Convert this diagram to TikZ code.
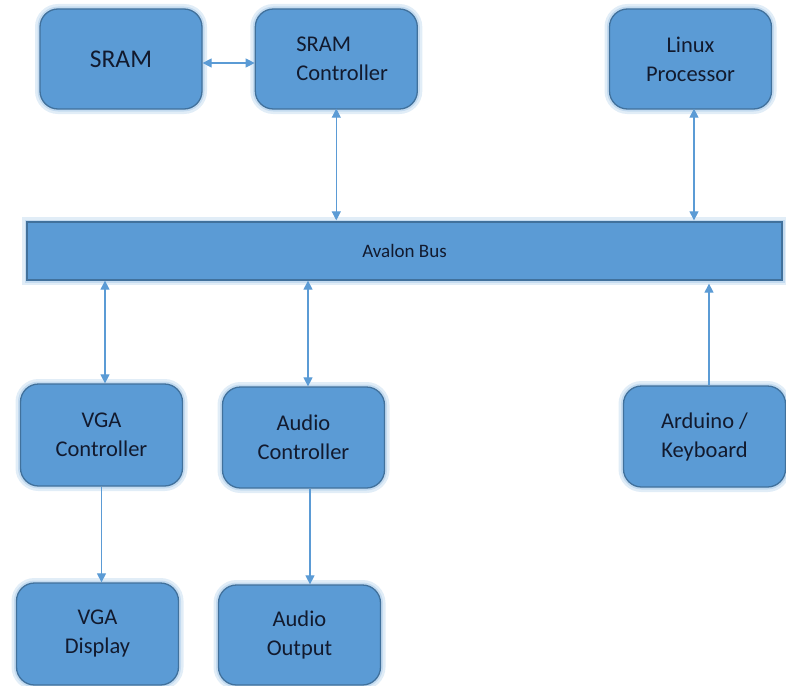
\documentclass[tikz,border=0pt]{standalone}
\usepackage{fontspec}
\setmainfont{Carlito}
\usetikzlibrary{arrows.meta,positioning}
\definecolor{blockfill}{HTML}{5B9BD5}
\definecolor{blockline}{HTML}{41719C}
\definecolor{blockglow}{HTML}{BDD7EE}
\definecolor{blocktext}{HTML}{121A2E}

\begin{document}
\begin{tikzpicture}[
    x=1pt, y=-1pt,
    block/.style={draw=blockline, fill=blockfill, line width=1.3pt, rounded corners=18pt,
      align=center, minimum width=162pt, minimum height=101pt, text=blocktext,
      font=\fontsize{22.5}{29}\selectfont,
      preaction={draw=blockglow, line width=10pt, opacity=.45},
      preaction={draw=blockglow, line width=5pt, opacity=.8}},
    busbar/.style={block, rounded corners=0pt, minimum width=755pt, minimum height=58pt,
      font=\fontsize{19}{22}\selectfont},
    arr/.style={draw=blockfill, line width=1.2pt, -{Triangle[length=9pt,width=9pt]}},
    biarr/.style={arr, {Triangle[length=9pt,width=9pt]}-{Triangle[length=9pt,width=9pt]}}
  ]
    \useasboundingbox (0,0) rectangle (786,685);

    % Top row
    \node[block, minimum height=100pt, font=\fontsize{25.5}{29}\selectfont] (sram) at (121,59) {SRAM};
    \node[block, minimum height=100pt, right=52pt of sram, align=left, text width=92pt, xshift=0pt] (sramctrl) {\hspace*{6pt}SRAM\\\hspace*{6pt}Controller\hspace*{-8pt}};
    \node[block, minimum height=100pt] (linux) at (690.5,59) {Linux\\Processor};

    % Bus
    \node[busbar] (bus) at (404.5,251) {Avalon Bus};

    % Lower rows
    \node[block, minimum height=102pt] (vgactrl) at (101.5,435) {VGA\\Controller};
    \node[block] (audioctrl) at (303.5,437.5) {Audio\\Controller};
    \node[block] (arduino) at (704.5,436.5) {Arduino /\\Keyboard};
    \node[block, minimum height=102pt] (vgadisp) at (97.5,634) {VGA\\Display};
    \node[block, minimum height=100pt] (audioout) at (299.5,635) {Audio\\Output};

    % Memory side
    \draw[biarr] ([yshift=-4pt]sram.east) -- ([yshift=-4pt]sram.east -| sramctrl.west);
    \draw[biarr] ([yshift=1pt]sramctrl.south) -- ([yshift=1pt]sramctrl.south |- bus.north);
    \draw[biarr] ([xshift=3.5pt,yshift=1pt]linux.south) -- ([xshift=3.5pt,yshift=1pt]linux.south |- bus.north);

    % Peripherals to bus
    \draw[biarr] ([xshift=3.5pt]vgactrl.north) -- ([xshift=3.5pt]vgactrl.north |- bus.south);
    \draw[biarr] ([xshift=4.5pt]audioctrl.north) -- ([xshift=4.5pt]audioctrl.north |- bus.south);
    \draw[arr, shorten >=3pt] ([xshift=4.5pt]arduino.north) -- ([xshift=4.5pt]arduino.north |- bus.south);

    % Outputs
    \draw[arr] (vgactrl.south) -- (vgactrl.south |- vgadisp.north);
    \draw[arr] ([xshift=6.5pt]audioctrl.south) -- ([xshift=6.5pt]audioctrl.south |- audioout.north);
  \end{tikzpicture}
\end{document}
